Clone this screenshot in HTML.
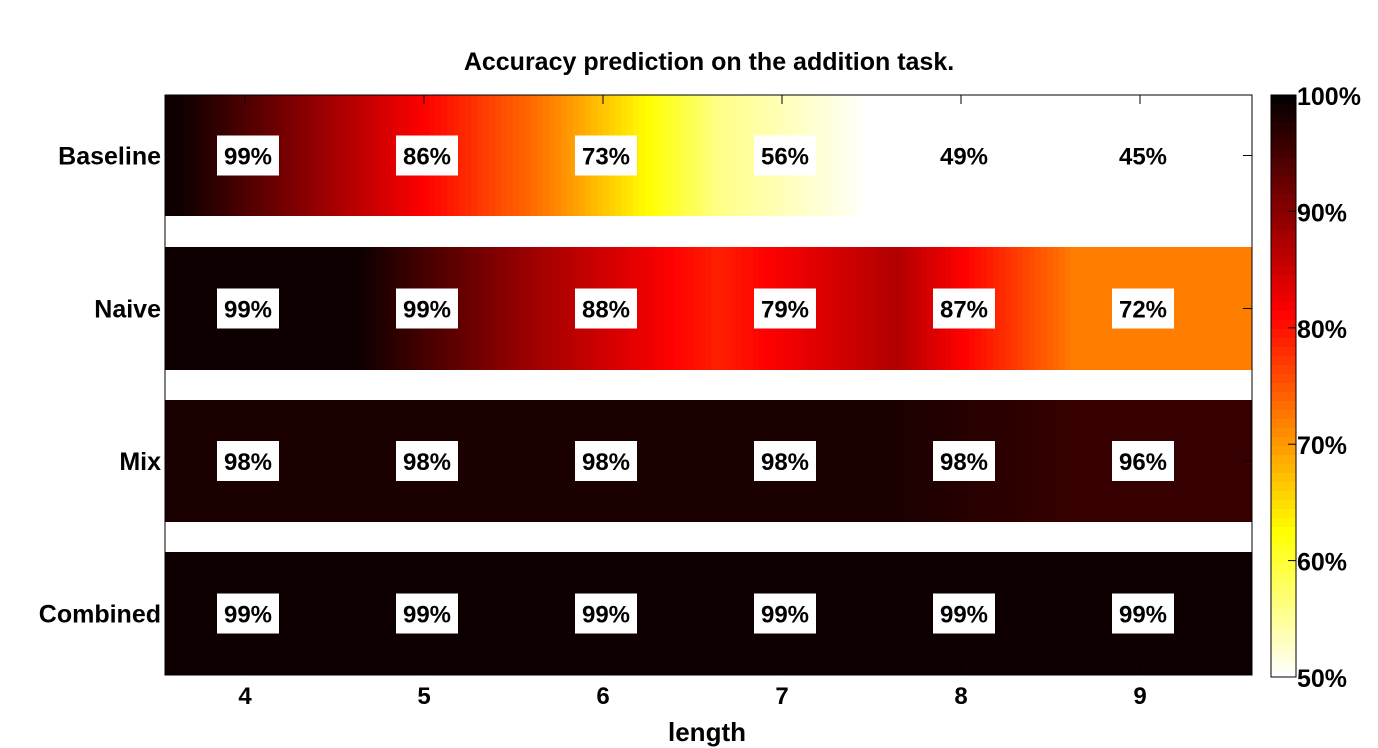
<!DOCTYPE html>
<html><head><meta charset="utf-8"><style>
body{margin:0;background:#fff;}
svg{display:block;font-family:"Liberation Sans",sans-serif;font-weight:bold;}
</style></head><body>
<svg id="chart" width="1378" height="748" viewBox="0 0 1378 748" xmlns="http://www.w3.org/2000/svg">
<text x="709" y="70" font-size="25" text-anchor="middle">Accuracy prediction on the addition task.</text>
<g id="cells"></g>
<g id="labels"></g>
<rect x="165" y="95" width="1087" height="580" fill="none" stroke="#000" stroke-width="1"/>
<g id="axes"></g>
<g id="cbar"></g>
<text x="707" y="741" font-size="26" text-anchor="middle">length</text>
</svg>
<script>
const rowsNames = ["Baseline","Naive","Mix","Combined"];
const lengths = [4,5,6,7,8,9];
const baseline = [99,86,73,56,49,45];
const naive = [99,99,88,79,87,72];
const mix = [98,98,98,98,98,96];
const combined = [99,99,99,99,99,99];
const cbTicks = [100,90,80,70,60,50];

const series=[baseline,naive,mix,combined];
const NS="http://www.w3.org/2000/svg";
const x0=165,x1=1252,xc=v=>245+(v-4)*179;
const rowTop=[95,247,400,552],rowH=[121,123,122,123];
function col(v){let t=Math.max(0,Math.min(1,(v-50)/50));let x=1-t;
 let r=Math.min(1,x/0.375),g=Math.max(0,Math.min(1,(x-0.375)/0.375)),b=Math.max(0,Math.min(1,(x-0.75)/0.25));
 return `rgb(${Math.round(r*255)},${Math.round(g*255)},${Math.round(b*255)})`;}
function interp(vals,x){const p=lengths.map(l=>xc(l)-65);
 if(x<=p[0])return vals[0]; if(x>=p[p.length-1])return vals[vals.length-1];
 for(let i=0;i<p.length-1;i++){if(x<=p[i+1]){const f=(x-p[i])/(p[i+1]-p[i]);return vals[i]+f*(vals[i+1]-vals[i]);}}}
function el(tag,a,parent){const e=document.createElementNS(NS,tag);for(const k in a)e.setAttribute(k,a[k]);parent.appendChild(e);return e;}
const cells=document.getElementById('cells'),labels=document.getElementById('labels'),axes=document.getElementById('axes'),cbar=document.getElementById('cbar');
series.forEach((vals,r)=>{
 for(let x=x0;x<x1;x+=6){const w=Math.min(6,x1-x);
  const e=el('rect',{x:x,y:rowTop[r],width:w+0.5,height:rowH[r],fill:col(interp(vals,x+3))},cells);
  
  }
 const cy=rowTop[r]+rowH[r]/2;
 vals.forEach((v,i)=>{
  const b=el('rect',{x:xc(lengths[i])-28,y:cy-20,width:62,height:40,fill:'#fff'},labels);
  
  
  const t=el('text',{x:xc(lengths[i])+3,y:cy+9,'font-size':24,'text-anchor':'middle'},labels);
  t.textContent=v+'%';
  
  });
 const yl=el('text',{x:161,y:cy+9,'font-size':25,'text-anchor':'end'},axes);
 yl.textContent=rowsNames[r];
 
 
 const tk=el('line',{x1:1243,x2:1252,y1:cy,y2:cy,stroke:'#000'},axes);
 
 
});
lengths.forEach(l=>{
 const t=el('text',{x:xc(l),y:704,'font-size':24,'text-anchor':'middle'},axes);
 t.textContent=l;
 
 
 const a=el('line',{x1:xc(l),x2:xc(l),y1:95,y2:104,stroke:'#000'},axes);
 
 
 const b=el('line',{x1:xc(l),x2:xc(l),y1:666,y2:675,stroke:'#000'},axes);
 
 
});
const cy0=95,cy1=677,cyv=v=>cy0+(100-v)/50*(cy1-cy0);
for(let y=cy0;y<cy1;y+=9){const e=el('rect',{x:1271,y:y,width:25,height:Math.min(9.5,cy1-y),fill:col(100-(y+4.5-cy0)/(cy1-cy0)*50)},cbar);
 
 }
const fr=el('rect',{x:1271,y:cy0,width:25,height:cy1-cy0,fill:'none',stroke:'#000'},cbar);


cbTicks.forEach(v=>{
 const t=el('text',{x:1297,y:cyv(v)+10,'font-size':25},cbar);
 t.textContent=v+'%';
 
 
 const l=el('line',{x1:1288,x2:1296,y1:cyv(v),y2:cyv(v),stroke:'#000'},cbar);
 
 
});
</script>
</body></html>
